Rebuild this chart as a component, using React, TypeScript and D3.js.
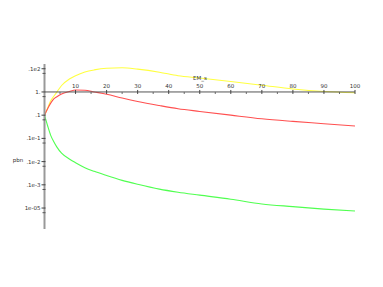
import { useRef, useEffect } from "react";
import * as d3 from "d3";

const width = 383;
const height = 287;

// sampled x positions (EM_s) and the three curves (pbn, log scale)
const xs = [0, 1, 2, 3, 4, 5.5, 8, 10, 13, 16, 20, 25, 30, 37, 43, 50, 60, 70, 80, 90, 100];
const yellow = [0.1, 0.2, 0.42, 0.65, 1.0, 1.9, 3.6, 5.0, 7.2, 8.9, 10.5, 11.0, 9.6, 7.1, 5.0, 4.0, 2.8, 1.95, 1.35, 1.05, 0.93];
const red = [0.1, 0.19, 0.33, 0.5, 0.62, 0.82, 1.05, 1.22, 1.18, 1.0, 0.8, 0.55, 0.39, 0.26, 0.19, 0.145, 0.1, 0.07, 0.054, 0.043, 0.034];
const green = [0.1, 0.035, 0.0135, 0.0072, 0.0042, 0.0023, 0.0013, 9e-4, 5.5e-4, 3.8e-4, 2.5e-4, 1.55e-4, 1.05e-4, 6.5e-5, 4.8e-5, 3.6e-5, 2.4e-5, 1.5e-5, 1.15e-5, 9e-6, 7.4e-6];

const xTicks = [10, 20, 30, 40, 50, 60, 70, 80, 90, 100];
const xMinor = [5, 15, 25, 35, 45, 55, 65, 75, 85, 95];
const yTicks = [10, 1, 0.1, 0.01, 0.001, 1e-4, 1e-5];
const yLabels = [".1e2", "1.", ".1", ".1e-1", ".1e-2", ".1e-3", "1e-05"];
const yMinor = [6.3, 0.63, 0.063, 0.0063, 6.3e-4, 6.3e-5, 6.3e-6];

const SERIES = [
  { values: yellow, color: "#ffff40" },
  { values: red, color: "#ff5050" },
  { values: green, color: "#50ff50" },
];

export default function App() {
  const ref = useRef<SVGSVGElement | null>(null);

  useEffect(() => {
    const svg = d3.select(ref.current);
    svg.selectAll("*").remove();

    const x = d3.scaleLinear().domain([0, 100]).range([44.5, 355]);
    const y = d3.scaleLog().domain([1.25e-6, 16]).range([229, 64]);
    const font = "DejaVu Sans, sans-serif";

    // curves
    const line = d3
      .line<number>()
      .x((_, i) => x(xs[i]))
      .y((d) => y(d))
      .curve(d3.curveMonotoneX);

    SERIES.forEach((s) => {
      svg
        .append("path")
        .datum(s.values)
        .attr("fill", "none")
        .attr("stroke", s.color)
        .attr("stroke-width", 1.1)
        .attr("d", line);
    });

    // x axis at pbn = 1
    const y0 = y(1);
    svg
      .append("line")
      .attr("x1", x(0))
      .attr("x2", x(100))
      .attr("y1", y0)
      .attr("y2", y0)
      .attr("stroke", "#555")
      .attr("stroke-width", 1);

    svg
      .selectAll(".xt")
      .data(xTicks)
      .join("line")
      .attr("x1", (d) => x(d))
      .attr("x2", (d) => x(d))
      .attr("y1", y0 - 2)
      .attr("y2", y0 + 2)
      .attr("stroke", "#444");

    svg
      .selectAll(".xm")
      .data(xMinor)
      .join("line")
      .attr("x1", (d) => x(d))
      .attr("x2", (d) => x(d))
      .attr("y1", y0)
      .attr("y2", y0 + 2)
      .attr("stroke", "#666");

    svg
      .selectAll(".xl")
      .data(xTicks)
      .join("text")
      .attr("x", (d) => x(d))
      .attr("y", y0 - 4)
      .attr("text-anchor", "middle")
      .attr("font-family", font)
      .attr("font-size", 5.5)
      .attr("fill", "#333")
      .text((d) => String(d));

    svg
      .append("text")
      .attr("x", 200)
      .attr("y", 80)
      .attr("text-anchor", "middle")
      .attr("font-family", font)
      .attr("font-size", 5.5)
      .attr("fill", "#333")
      .text("EM_s");

    // y axis
    svg
      .append("line")
      .attr("x1", x(0))
      .attr("x2", x(0))
      .attr("y1", y(16))
      .attr("y2", y(1.25e-6))
      .attr("stroke", "#999")
      .attr("stroke-width", 2);

    svg
      .selectAll(".yt")
      .data(yTicks)
      .join("line")
      .attr("x1", x(0) - 3)
      .attr("x2", x(0) + 1)
      .attr("y1", (d) => y(d))
      .attr("y2", (d) => y(d))
      .attr("stroke", "#444");

    svg
      .selectAll(".ym")
      .data(yMinor)
      .join("line")
      .attr("x1", x(0) - 2)
      .attr("x2", x(0) + 1)
      .attr("y1", (d) => y(d))
      .attr("y2", (d) => y(d))
      .attr("stroke", "#555");

    svg
      .selectAll(".yl")
      .data(yTicks)
      .join("text")
      .attr("x", x(0) - 4)
      .attr("y", (d) => y(d) + 2)
      .attr("text-anchor", "end")
      .attr("font-family", font)
      .attr("font-size", 5.5)
      .attr("fill", "#333")
      .text((_, i) => yLabels[i]);

    svg
      .append("text")
      .attr("x", 18)
      .attr("y", 162)
      .attr("text-anchor", "middle")
      .attr("font-family", font)
      .attr("font-size", 5.5)
      .attr("fill", "#333")
      .text("pbn");
  }, []);

  return (
    <svg
      ref={ref}
      width={width}
      height={height}
      style={{ position: "absolute", left: 0, top: 0, background: "#fff" }}
    />
  );
}
